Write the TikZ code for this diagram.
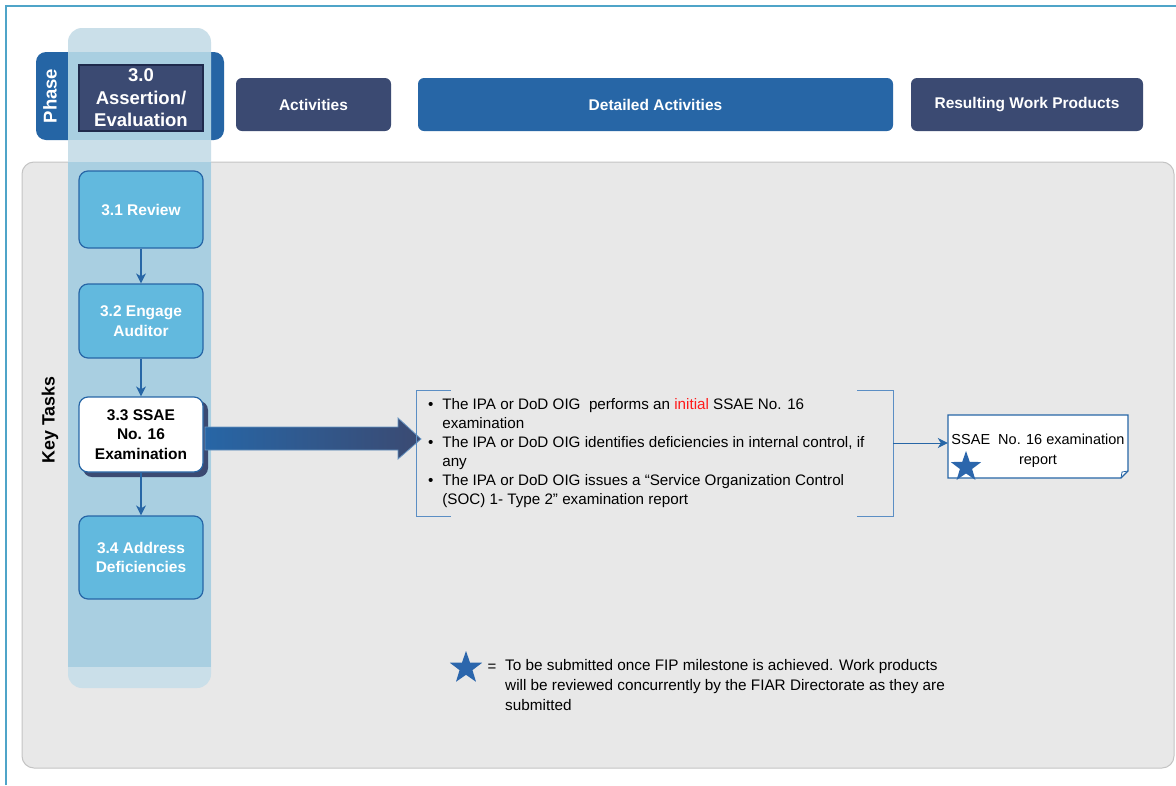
\documentclass[tikz,border=0pt]{standalone}
\usepackage{fontspec}
\setmainfont{Liberation Sans}
\usetikzlibrary{arrows.meta,shapes.geometric,calc}
\definecolor{navy}{HTML}{3B4A72}
\definecolor{navyd}{HTML}{1F2A4C}
\definecolor{bblue}{HTML}{2766A6}
\definecolor{phaseblue}{HTML}{2565A5}
\definecolor{taskblue}{HTML}{62B9DE}
\definecolor{coldark}{HTML}{A9CFE1}
\definecolor{collight}{HTML}{CADFE9}
\definecolor{panelgray}{HTML}{E8E8E8}
\definecolor{panelline}{HTML}{C4C4C4}
\definecolor{frameblue}{HTML}{4FA4C8}
\definecolor{brk}{HTML}{5B8EC4}
\definecolor{starblue}{HTML}{2B66AC}
\definecolor{ired}{HTML}{FF1A1A}
\begin{document}
\begin{tikzpicture}[x=1pt,y=-1pt,
  hdr/.style={rounded corners=6pt, text=white, minimum height=53pt,
    font=\fontsize{15.5}{18}\selectfont\bfseries, inner sep=0pt},
  task/.style={rounded corners=9pt, draw=bblue, line width=1.2pt, fill=taskblue,
    minimum width=124pt, text=white, align=center, inner sep=0pt,
    font=\fontsize{15.5}{19.5}\selectfont\bfseries},
  conn/.style={draw=bblue, line width=1.4pt, -{Stealth[length=10pt,width=10pt,inset=3pt]}},
  bstar/.style={star, star points=5, star point ratio=2.5, fill=starblue, draw=none, inner sep=0pt},
  body/.style={font=\fontsize{15.2}{19}\selectfont}
]
\useasboundingbox (0,0) rectangle (1176,785);
\fill[white] (0,0) rectangle (1176,785);
% outer frame
\draw[frameblue, line width=2pt] (6,785) -- (6,6) -- (1176,6);
% gray panel
\draw[fill=panelgray, draw=panelline, line width=1pt, rounded corners=12pt] (22,162) rectangle (1174,768);
% phase bar
\fill[phaseblue, rounded corners=10pt] (36,52) rectangle (224,140);
% column
\fill[collight, rounded corners=14pt] (68,28) rectangle (211,688);
\fill[coldark] (68,52) rectangle (211,140);
\fill[coldark] (68,162) rectangle (211,667);
% phase label
\node[rotate=90, text=white, font=\fontsize{18.5}{20}\selectfont\bfseries] (phase) at (50,96) {Phase};
\node[draw=navyd, line width=1.2pt, fill=navy, minimum width=124pt, minimum height=66pt,
  text=white, align=center, inner sep=0pt, font=\fontsize{18.5}{22.5}\selectfont\bfseries]
  (p30) at (141,98) {3.0\\Assertion/\\Evaluation};
% headers
\node[hdr, fill=navy, minimum width=155pt] (act1) at (313.5,104.5) {Activities};
\node[hdr, fill=bblue, minimum width=475pt] (det) at (655.5,104.5) {Detailed Activities};
\node[hdr, fill=navy, minimum width=232pt] (res) at (1027,104.5) {Resulting Work Products};
% key tasks
\node[rotate=90, font=\fontsize{17.8}{20}\selectfont\bfseries] (kt) at (50,420) {Key Tasks};
% tasks
\node[task, minimum height=77pt] (t31) at (141,209.5) {3.1 Review};
\node[task, minimum height=74pt] (t32) at (141,321) {3.2 Engage\\Auditor};
\fill[navy, rounded corners=9pt] (83,401) rectangle (208,477);
\node[task, fill=white, text=black, minimum height=75pt] (t33) at (141,434.5) {3.3 SSAE\\No. 16\\Examination};
\node[task, minimum height=83pt] (t34) at (141,557.5) {3.4 Address\\Deficiencies};
\draw[conn] (t31.south) -- (t32.north);
\draw[conn] (t32.south) -- (t33.north);
\draw[conn] (t33.south) -- (t34.north);
% big arrow
\draw[draw=bblue!70!white, line width=0.8pt, left color=bblue, right color=navy]
  (205,427) -- (398,427) -- (398,418) -- (421,439) -- (398,459) -- (398,450) -- (205,450) -- cycle;
% activity bracket box
\node[minimum width=476pt, minimum height=125pt, inner sep=0pt] (act) at (655,453.5) {};
\draw[brk, line width=1pt] ($(act.north west)+(34,0)$) -- (act.north west) -- (act.south west) -- ($(act.south west)+(34,0)$);
\draw[brk, line width=1pt] ($(act.north east)+(-36,0)$) -- (act.north east) -- (act.south east) -- ($(act.south east)+(-36,0)$);
\node[body, anchor=west, inner sep=0pt] (acttext) at ($(act.west)+(11,0)$) {%
\begin{tabular}{@{}l@{\hspace{9pt}}l@{}}
\textbullet & The IPA or DoD OIG\ \ performs an \textcolor{ired}{initial} SSAE No. 16\\
 & examination\\
\textbullet & The IPA or DoD OIG identifies deficiencies in internal control, if\\
 & any\\
\textbullet & The IPA or DoD OIG issues a “Service Organization Control\\
 & (SOC) 1- Type 2” examination report
\end{tabular}};
% document
\path[fill=white, draw=bblue, line width=1.2pt] (948,415) -- (1128,415) -- (1128,471) -- (1121,478) -- (948,478) -- cycle;
\draw[bblue, line width=0.8pt] (1121,478) -- (1122,472) -- (1128,471);
\node[align=center, inner sep=0pt, minimum width=180pt,
  font=\fontsize{14.5}{20}\selectfont] (doc) at (1038,451) {SSAE\ \ No. 16 examination\\report};
\draw[conn, line width=1pt] ([yshift=8pt]doc.west -| act.east) -- ([yshift=8pt]doc.west);
\node[bstar, minimum size=32pt] (docstar) at (966,467) {};
% legend
\node[bstar, minimum size=34pt] (lstar) at (466,668) {};
\node[font=\fontsize{15}{19}\selectfont, inner sep=0pt] (eq) at (492,668) {=};
\node[anchor=north west, align=left, inner sep=0pt, font=\fontsize{15.3}{20}\selectfont] (legend) at (505,659)
  {To be submitted once FIP milestone is achieved. Work products\\will be reviewed concurrently by the FIAR Directorate as they are\\submitted};
\end{tikzpicture}
\end{document}
